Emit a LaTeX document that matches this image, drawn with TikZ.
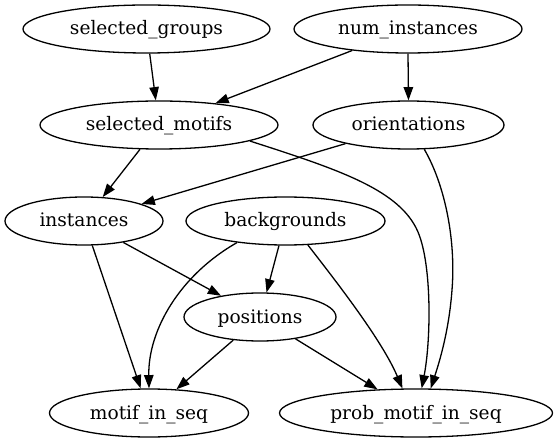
\documentclass[tikz,border=0pt]{standalone}
\usepackage{fontspec}
\setmainfont{DejaVu Serif}
\usetikzlibrary{shapes.geometric,arrows.meta}
\tikzset{
  gnode/.style={ellipse, draw, line width=1.3pt, inner sep=0pt, minimum height=48pt, text height=12pt, text depth=0pt, font=\fontsize{18.6pt}{22pt}\selectfont},
  gedge/.style={line width=1.3pt, -{Triangle[length=13.3pt,width=9.5pt]}}
}
\begin{document}
\begin{tikzpicture}[x=1pt,y=-1pt]
\useasboundingbox (0,0) rectangle (556,443);
\node[gnode, minimum width=247pt] (sg) at (146.5,29) {selected\_groups};
\node[gnode, minimum width=228pt] (ni) at (408,29) {num\_instances};
\node[gnode, minimum width=238pt] (sm) at (159,125) {selected\_motifs};
\node[gnode, minimum width=191pt] (ori) at (408.5,125) {orientations};
\node[gnode, minimum width=158pt] (inst) at (84,221) {instances};
\node[gnode, minimum width=199pt] (bg) at (285.5,221) {backgrounds};
\node[gnode, minimum width=152pt] (po) at (260,317) {positions};
\node[gnode, minimum width=199pt] (ms) at (149,413) {motif\_in\_seq};
\node[gnode, minimum width=273pt] (pm) at (416,413) {prob\_motif\_in\_seq};

\draw[gedge] (sg) -- (sm);
\draw[gedge] (ni) -- (sm);
\draw[gedge] (ni.south) -- (ori.north);
\draw[gedge] (sm) -- (inst);
\draw[gedge] (ori) -- (inst);
\draw[gedge] (sm.-10) .. controls (340,170) and (400,190) .. (418,232)
  .. controls (432,265) and (431,340) .. (pm.77);
\draw[gedge] (ori.-57) .. controls (445,185) and (456,240) .. (452,290)
  .. controls (449,330) and (440,360) .. (pm.59);
\draw[gedge] (inst) -- (po);
\draw[gedge] (inst) -- (ms);
\draw[gedge] (bg) -- (po);
\draw[gedge] (bg.-156) .. controls (180,275) and (148,330) .. (ms.north);
\draw[gedge] (bg.-47) .. controls (335,280) and (382,340) .. (pm.119);
\draw[gedge] (po) -- (ms);
\draw[gedge] (po) -- (pm);
\end{tikzpicture}
\end{document}
